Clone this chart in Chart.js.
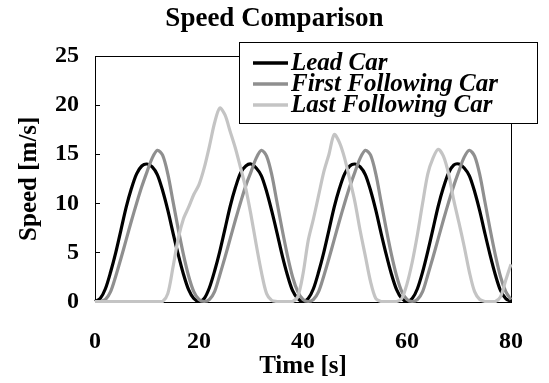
<!DOCTYPE html>
<html>
<head>
<meta charset="utf-8">
<title>Speed Comparison</title>
<script src="https://cdn.jsdelivr.net/npm/chart.js@4"></script>
<style>
  html, body { margin: 0; padding: 0; background: #fff; }
  #wrap { width: 549px; height: 383px; }
</style>
</head>
<body>
<div id="wrap"><canvas id="speed-chart" width="549" height="383"></canvas></div>
<script>
/* Speed of three cars in a platoon (1 s steps). */

const TIME_S = [
  0, 1, 2, 3, 4, 5, 6, 7, 8, 9, 10, 11, 12, 13, 14, 15, 16, 17, 18, 19,
  20, 21, 22, 23, 24, 25, 26, 27, 28, 29, 30, 31, 32, 33, 34, 35, 36, 37, 38, 39,
  40, 41, 42, 43, 44, 45, 46, 47, 48, 49, 50, 51, 52, 53, 54, 55, 56, 57, 58, 59,
  60, 61, 62, 63, 64, 65, 66, 67, 68, 69, 70, 71, 72, 73, 74, 75, 76, 77, 78, 79,
  80,
];

const LEAD_CAR = [
  0, 0.3, 1.3, 3.0, 5.0, 7.3, 9.6, 11.5, 13.0, 13.8, 14.0, 13.7, 12.9, 11.3, 9.3, 7.0, 4.8, 2.8, 1.2, 0.3,
  0, 0.3, 1.4, 3.1, 5.1, 7.4, 9.7, 11.6, 13.1, 13.8, 14.0, 13.6, 12.8, 11.2, 9.2, 7.0, 4.7, 2.7, 1.1, 0.3,
  0, 0.3, 1.3, 3.0, 5.0, 7.3, 9.6, 11.5, 13.0, 13.8, 14.0, 13.7, 12.9, 11.3, 9.3, 7.0, 4.8, 2.8, 1.2, 0.3,
  0, 0.3, 1.3, 3.0, 5.1, 7.4, 9.7, 11.6, 13.1, 13.9, 14.0, 13.6, 12.8, 11.2, 9.2, 6.9, 4.7, 2.7, 1.1, 0.3,
  0,
];

const FIRST_FOLLOWING = [
  0, 0, 0.2, 1.0, 2.6, 4.4, 6.3, 8.2, 10.0, 11.7, 13.2, 14.6, 15.4, 14.9, 13.0, 10.2, 7.4, 4.8, 2.6, 1.0,
  0.2, 0, 0.2, 1.0, 2.7, 4.5, 6.4, 8.3, 10.1, 11.8, 13.2, 14.6, 15.4, 14.8, 12.9, 10.1, 7.3, 4.7, 2.5, 1.0,
  0.2, 0, 0.2, 1.0, 2.6, 4.4, 6.3, 8.2, 10.0, 11.7, 13.2, 14.6, 15.4, 14.9, 13.0, 10.2, 7.4, 4.8, 2.6, 1.0,
  0.2, 0, 0.2, 1.0, 2.7, 4.5, 6.4, 8.3, 10.1, 11.8, 13.3, 14.7, 15.4, 14.8, 12.9, 10.1, 7.3, 4.7, 2.5, 1.0,
  0.2,
];

const LAST_FOLLOWING = [
  0, 0, 0, 0, 0, 0, 0, 0, 0, 0, 0, 0, 0, 0, 0.8, 3.5, 6.4, 8.4, 9.6, 10.9,
  11.9, 13.6, 15.8, 18.2, 19.7, 19.0, 17.3, 15.6, 13.6, 11.5, 8.8, 5.8, 3.0, 0.8, 0.1, 0, 0, 0, 0, 0.5,
  2.8, 6.2, 8.4, 10.8, 13.2, 15.0, 17.0, 16.2, 14.6, 12.4, 10.1, 7.2, 4.6, 2.0, 0.3, 0, 0, 0, 0, 0.3,
  1.8, 4.0, 6.8, 10.0, 13.0, 14.6, 15.5, 14.8, 13.0, 10.3, 8.0, 5.6, 3.0, 1.0, 0.2, 0, 0, 0, 0.5, 2.2,
  3.8,
];

const SERIES_NAMES = ["Lead Car", "First Following Car", "Last Following Car"];
const X_TICKS = [0, 20, 40, 60, 80];
const Y_TICKS = [0, 5, 10, 15, 20, 25];

const SERIF = "'Liberation Serif', 'Times New Roman', serif";
const COLORS = ["#000000", "#8f8f8f", "#c4c4c4"];

// box round the plot area plus the short inward ticks on the y axis
const frame = {
  id: "frame",
  beforeDatasetsDraw(chart) {
    const { ctx, chartArea: a } = chart;
    const y = chart.scales.y;
    ctx.save();
    ctx.strokeStyle = "#000";
    ctx.lineWidth = 1;
    ctx.strokeRect(Math.round(a.left) + 0.5, Math.round(a.top) + 0.5,
      Math.round(a.right - a.left), Math.round(a.bottom - a.top));
    ctx.beginPath();
    for (const v of Y_TICKS) {
      const py = Math.round(y.getPixelForValue(v)) + 0.5;
      ctx.moveTo(a.left, py);
      ctx.lineTo(a.left + 5, py);
    }
    ctx.stroke();
    ctx.restore();
  },
};

// boxed legend sitting over the top right of the plot
const legendBox = {
  id: "legendBox",
  afterDraw(chart) {
    const ctx = chart.ctx;
    ctx.save();
    ctx.fillStyle = "#fff";
    ctx.fillRect(239.5, 42.5, 298, 81);
    ctx.strokeStyle = "#000";
    ctx.lineWidth = 1;
    ctx.strokeRect(239.5, 42.5, 298, 81);
    ctx.font = `italic bold 25px ${SERIF}`;
    ctx.textBaseline = "middle";
    chart.data.datasets.forEach((ds, i) => {
      const ly = 63 + i * 21;
      ctx.strokeStyle = ds.borderColor;
      ctx.lineWidth = 3.5;
      ctx.beginPath();
      ctx.moveTo(253, ly);
      ctx.lineTo(288, ly);
      ctx.stroke();
      ctx.fillStyle = "#000";
      ctx.fillText(ds.label, 291, ly + 1);
    });
    ctx.restore();
  },
};

const seriesData = [LEAD_CAR, FIRST_FOLLOWING, LAST_FOLLOWING];

new Chart(document.getElementById("speed-chart"), {
  type: "line",
  data: {
    labels: TIME_S,
    datasets: seriesData.map((values, i) => ({
      label: SERIES_NAMES[i],
      data: values,
      borderColor: COLORS[i],
      borderWidth: 3.2,
      pointRadius: 0,
      tension: 0.3,
      fill: false,
      clip: 6,
      order: 2 - i,
    })),
  },
  options: {
    responsive: false,
    animation: false,
    layout: { padding: 0 },
    plugins: {
      legend: { display: false },
      tooltip: { enabled: false },
      title: {
        display: true,
        text: "Speed Comparison",
        color: "#000",
        font: { family: SERIF, size: 27, weight: "bold", lineHeight: 1.2 },
        padding: { top: 3, bottom: 20.6 },
      },
    },
    scales: {
      x: {
        type: "linear",
        min: 0,
        max: 80,
        afterBuildTicks: (s) => { s.ticks = X_TICKS.map(v => ({ value: v })); },
        afterFit: (s) => { s.height = 81.5; },
        grid: { display: false, drawTicks: false },
        border: { display: false },
        ticks: { color: "#000", padding: 26, font: { family: SERIF, size: 24, weight: "bold" } },
        title: {
          display: true,
          text: "Time [s]",
          color: "#000",
          font: { family: SERIF, size: 25, weight: "bold", lineHeight: 1.2 },
          padding: { top: 0, bottom: 1 },
        },
      },
      y: {
        min: 0,
        max: 25,
        afterBuildTicks: (s) => { s.ticks = Y_TICKS.map(v => ({ value: v })); },
        afterFit: (s) => { s.width = 95; },
        grid: { display: false, drawTicks: false },
        border: { display: false },
        ticks: { color: "#000", padding: 16, font: { family: SERIF, size: 24, weight: "bold" } },
        title: {
          display: true,
          text: "Speed [m/s]",
          color: "#000",
          font: { family: SERIF, size: 25, weight: "bold", lineHeight: 1.2 },
          padding: { top: 15, bottom: 6 },
        },
      },
      // empty strip on the right so the plot ends short of the canvas edge
      yRight: {
        position: "right",
        afterFit: (s) => { s.width = 27; },
        grid: { display: false, drawTicks: false },
        border: { display: false },
        ticks: { display: false },
      },
    },
  },
  plugins: [frame, legendBox],
});
</script>
</body>
</html>
